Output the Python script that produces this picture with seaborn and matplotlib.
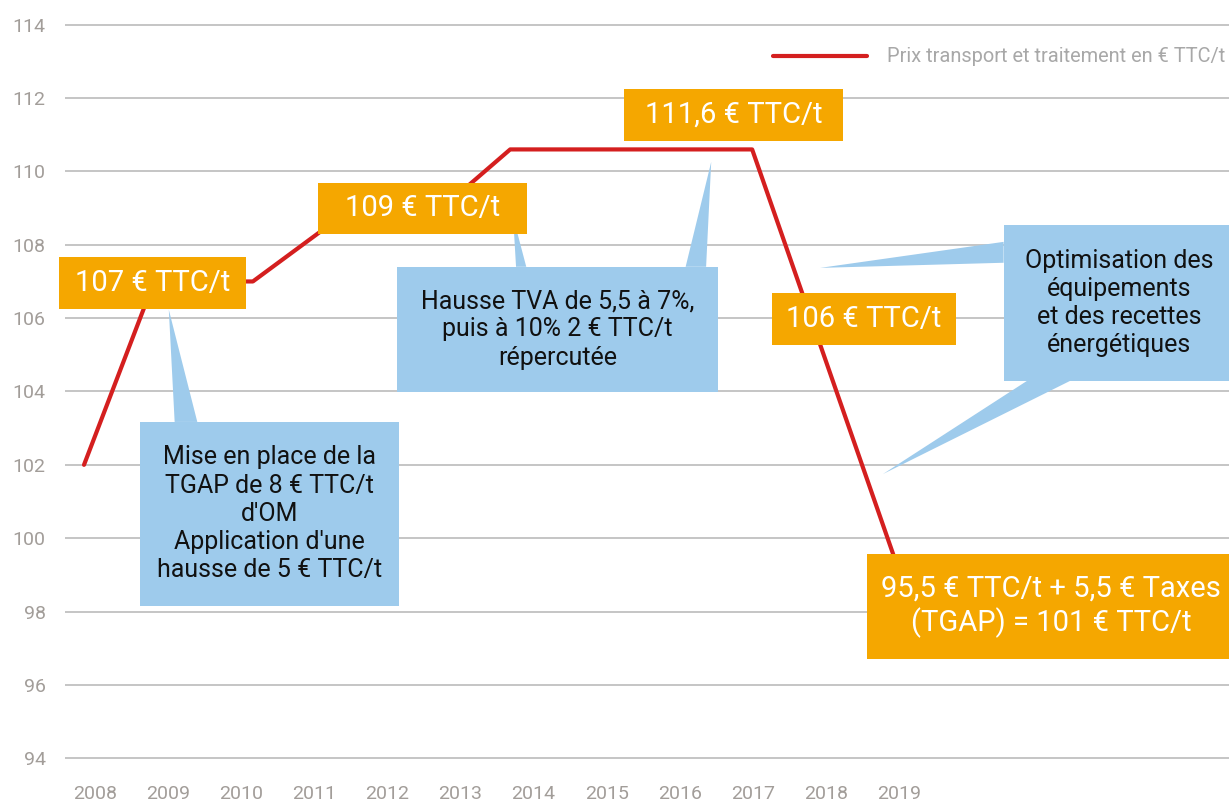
import numpy as np
import pandas as pd
import matplotlib.pyplot as plt
from matplotlib.patches import Rectangle, Polygon
import seaborn as sns

# donnees (abscisses en annees decimales)
annees = [2007.85, 2008.81, 2010.16, 2011.52, 2012.75, 2013.68, 2016.99, 2019.0]
prix = [102.0, 107.0, 107.0, 109.0, 109.0, 110.6, 110.6, 99.1]
annees_ticks = list(range(2008, 2020))
prix_ticks = list(range(94, 115, 2))
serie = "Prix transport et traitement en € TTC/t"

etiquettes_orange = [
    "107 € TTC/t",
    "109 € TTC/t",
    "111,6 € TTC/t",
    "106 € TTC/t",
    "95,5 € TTC/t + 5,5 € Taxes\n(TGAP) = 101 € TTC/t",
]
textes_bleus = [
    "Mise en place de la\nTGAP de 8 € TTC/t\nd'OM\nApplication d'une\nhausse de 5 € TTC/t",
    "Hausse TVA de 5,5 à 7%,\npuis à 10% 2 € TTC/t\nrépercutée",
    "Optimisation des\néquipements\net des recettes\nénergétiques",
]

df = pd.DataFrame({"annee": annees, "prix": prix})

# mise en page (x0, x1, y0, y1 en coordonnees des donnees)
pos_orange = [
    (2007.51, 2010.07, 106.25, 107.67),
    (2011.05, 2013.91, 108.30, 109.69),
    (2015.24, 2018.23, 110.84, 112.25),
    (2017.26, 2019.78, 105.27, 106.69),
    (2018.56, 2023.6, 96.71, 99.57),
]
pos_bleu = [
    (2008.62, 2012.16, 98.16, 103.17),
    (2012.13, 2016.52, 103.99, 107.40),
    (2020.43, 2023.6, 104.29, 108.54),
]
pointes = [
    [(2009.09, 103.17), (2009.40, 103.17), (2009.01, 106.23)],
    [(2013.76, 107.40), (2013.90, 107.40), (2013.72, 108.76)],
    [(2016.08, 107.40), (2016.36, 107.40), (2016.43, 110.26)],
    [(2020.43, 108.08), (2020.43, 107.51), (2017.92, 107.37)],
    [(2020.75, 104.29), (2021.34, 104.29), (2018.78, 101.75)],
]

ORANGE = "#f5a700"
BLEU = "#9ecbec"
ROUGE = "#d41f1f"
GRIS = "#a29d99"

sns.set_style("white")
plt.rcParams["font.family"] = ["Roboto", "DejaVu Sans"]

fig = plt.figure(figsize=(12.29, 8.01), dpi=100)
ax = fig.add_axes([65 / 1229, 0.0442, 1 - 65 / 1229, 0.9341])

sns.lineplot(data=df, x="annee", y="prix", color=ROUGE, lw=3, label=serie,
             ax=ax, zorder=3)

ax.set_xlim(2007.59, 2023.513)
ax.set_ylim(93.8, 114.2)
ax.set_xticks(annees_ticks)
ax.set_yticks(prix_ticks)
ax.tick_params(axis="both", length=0, labelsize=14, labelcolor=GRIS)
ax.tick_params(axis="x", pad=14)
ax.tick_params(axis="y", pad=14)
ax.yaxis.grid(True, color="#b5b5b5", lw=1.1)
ax.xaxis.grid(False)
ax.set_axisbelow(True)
ax.set_xlabel("")
ax.set_ylabel("")
sns.despine(ax=ax, left=True, bottom=True)

for tri in pointes:
    ax.add_patch(Polygon(tri, closed=True, facecolor=BLEU, edgecolor="none",
                         zorder=4, clip_on=False))

for txt, (x0, x1, y0, y1) in zip(textes_bleus, pos_bleu):
    ax.add_patch(Rectangle((x0, y0), x1 - x0, y1 - y0, facecolor=BLEU,
                           edgecolor="none", zorder=5, clip_on=False))
    ax.text((x0 + x1) / 2, (y0 + y1) / 2, txt, ha="center", va="center",
            fontsize=18, color="#111111", linespacing=1.22, zorder=6)

for txt, (x0, x1, y0, y1) in zip(etiquettes_orange, pos_orange):
    ax.add_patch(Rectangle((x0, y0), x1 - x0, y1 - y0, facecolor=ORANGE,
                           edgecolor="none", zorder=5, clip_on=False))
    ax.text((x0 + x1) / 2, (y0 + y1) / 2, txt, ha="center", va="center",
            fontsize=21, color="white", linespacing=1.2, zorder=6)

ax.legend(loc="center right", bbox_to_anchor=(1225 / 1229, 1 - 57 / 801),
          bbox_transform=fig.transFigure, frameon=False, fontsize=14.4,
          labelcolor="#a8a8a8", handlelength=4.7, handletextpad=1.0,
          borderpad=0, borderaxespad=0)

fig.savefig("out.png", dpi=100)
